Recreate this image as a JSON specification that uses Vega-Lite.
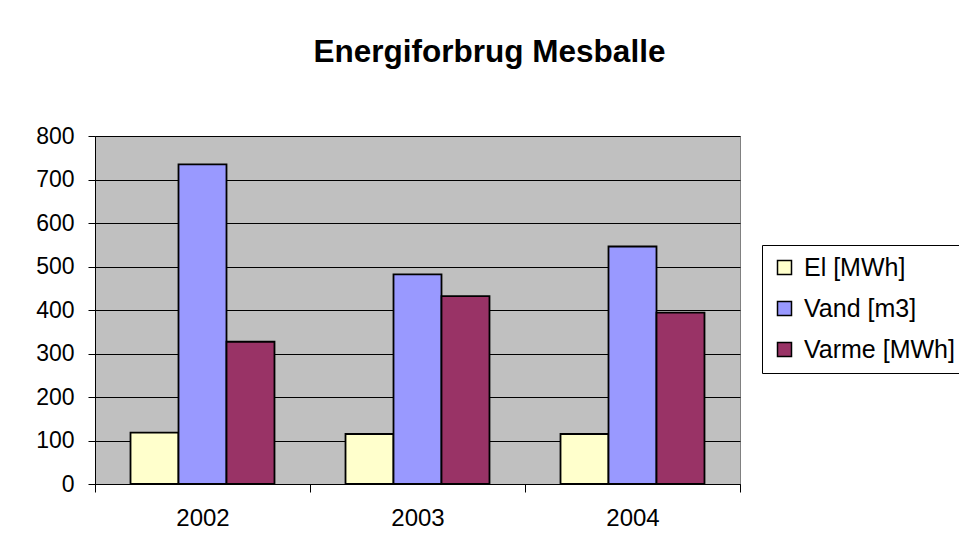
{
  "$schema": "https://vega.github.io/schema/vega-lite/v6.json",
  "width": 645,
  "height": 348,
  "autosize": {"type": "none"},
  "padding": {"left": 95, "top": 136, "right": 219, "bottom": 74},
  "background": "white",
  "title": {
    "text": "Energiforbrug Mesballe",
    "font": "Liberation Sans",
    "fontSize": 31.5,
    "fontWeight": "bold",
    "color": "black",
    "anchor": "middle",
    "baseline": "alphabetic",
    "dx": 72,
    "offset": 32
  },
  "data": {
    "values": [
      {"year": "2002", "series": "El [MWh]", "value": 118},
      {"year": "2002", "series": "Vand [m3]", "value": 735},
      {"year": "2002", "series": "Varme [MWh]", "value": 327},
      {"year": "2003", "series": "El [MWh]", "value": 115},
      {"year": "2003", "series": "Vand [m3]", "value": 482},
      {"year": "2003", "series": "Varme [MWh]", "value": 432},
      {"year": "2004", "series": "El [MWh]", "value": 115},
      {"year": "2004", "series": "Vand [m3]", "value": 546},
      {"year": "2004", "series": "Varme [MWh]", "value": 394}
    ]
  },
  "mark": {"type": "bar", "stroke": "black", "strokeWidth": 1.8, "strokeJoin": "miter"},
  "encoding": {
    "x": {
      "field": "year",
      "type": "nominal",
      "scale": {"paddingInner": 0, "paddingOuter": 0},
      "axis": {
        "title": null,
        "labelAngle": 0,
        "labelFont": "Liberation Sans",
        "labelFontSize": 24,
        "labelColor": "black",
        "labelPadding": 14,
        "tickBand": "extent",
        "tickSize": 8,
        "tickColor": "black",
        "domainColor": "black",
        "grid": false
      }
    },
    "xOffset": {
      "field": "series",
      "type": "nominal",
      "sort": ["El [MWh]", "Vand [m3]", "Varme [MWh]"],
      "scale": {"paddingInner": 0, "paddingOuter": 0.74}
    },
    "y": {
      "field": "value",
      "type": "quantitative",
      "scale": {"domain": [0, 800], "nice": false},
      "axis": {
        "title": null,
        "values": [0, 100, 200, 300, 400, 500, 600, 700, 800],
        "labelFont": "Liberation Sans",
        "labelFontSize": 23,
        "labelColor": "black",
        "labelPadding": 14,
        "tickSize": 7,
        "tickColor": "black",
        "domainColor": "black",
        "grid": true,
        "gridColor": "black",
        "gridOpacity": 1,
        "gridWidth": 1
      }
    },
    "fill": {
      "field": "series",
      "type": "nominal",
      "sort": ["El [MWh]", "Vand [m3]", "Varme [MWh]"],
      "scale": {
        "domain": ["El [MWh]", "Vand [m3]", "Varme [MWh]"],
        "range": ["#FFFFCC", "#9999FF", "#993366"]
      },
      "legend": {
        "title": null,
        "orient": "none",
        "legendX": 667,
        "legendY": 109,
        "padding": 10,
        "strokeColor": "black",
        "fillColor": "white",
        "symbolType": "square",
        "symbolSize": 196,
        "symbolStrokeColor": "black",
        "symbolStrokeWidth": 1.5,
        "symbolOpacity": 1,
        "labelFont": "Liberation Sans",
        "labelFontSize": 25,
        "labelColor": "black",
        "labelOffset": 7,
        "rowPadding": 15,
        "labelLimit": 400
      }
    }
  },
  "config": {
    "view": {"fill": "#C0C0C0", "stroke": "#808080", "strokeWidth": 1},
    "axis": {"domainWidth": 1, "tickWidth": 1}
  }
}
